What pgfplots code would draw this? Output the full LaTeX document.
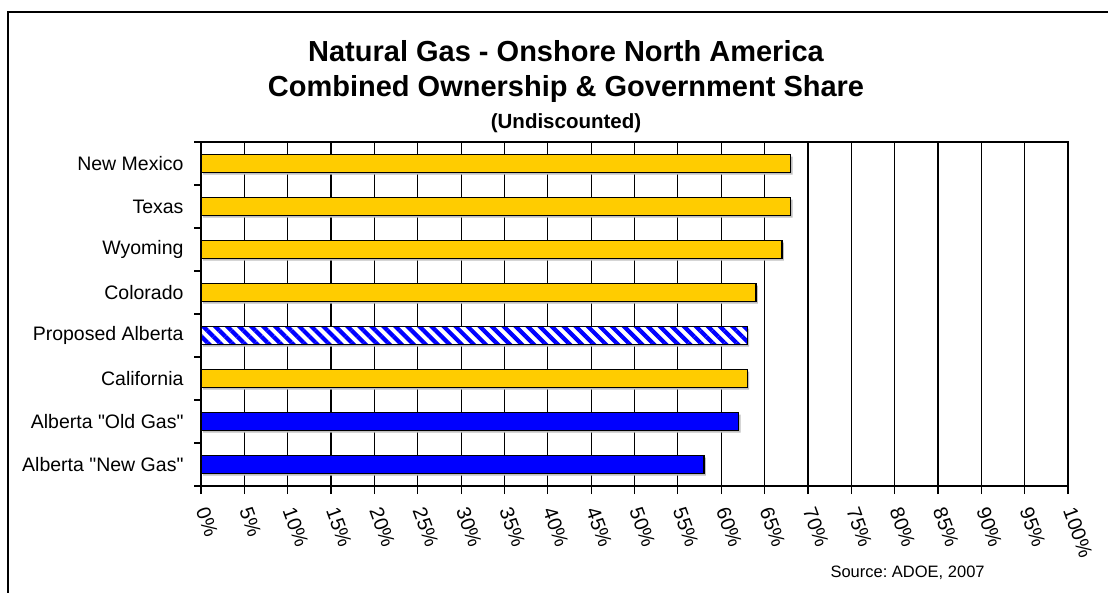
\documentclass[border=0pt]{standalone}
\usepackage{fontspec}
\setmainfont{Liberation Sans}
\newfontfamily\lsans{Liberation Sans}
\usepackage{pgfplots}
\pgfplotsset{compat=1.18}
\usetikzlibrary{patterns.meta}
\definecolor{gold}{HTML}{FFCC00}
\definecolor{xblue}{HTML}{0000FF}
\begin{document}
\frenchspacing
\begin{tikzpicture}[x=1pt,y=1pt]
\useasboundingbox (0,0) rectangle (1108,592);
\fill[white] (0,0) rectangle (1108,592);
\draw[line width=2pt] (8,-5) -- (8,580) -- (1115,580);
\begin{axis}[
  at={(201pt,106pt)}, anchor=south west,
  scale only axis, width=867pt, height=344pt,
  xmin=0, xmax=100, ymin=0.5, ymax=8.5, y dir=reverse,
  axis line style={line width=1.4pt},
  xtick={0,5,...,100},
  xticklabels={0\%,5\%,10\%,15\%,20\%,25\%,30\%,35\%,40\%,45\%,50\%,55\%,60\%,65\%,70\%,75\%,80\%,85\%,90\%,95\%,100\%},
  ytick={1,...,8},
  yticklabels={New Mexico,Texas,Wyoming,Colorado,Proposed Alberta,California,Alberta "Old Gas",Alberta "New Gas"},
  minor ytick={0.5,1.5,...,8.5},
  xtick pos=bottom, ytick pos=left,
  tick align=outside,
  major tick length=8pt, minor tick length=7pt,
  major y tick style={draw=none},
  every tick/.style={black, line width=1.2pt},
  xmajorgrids,
  major grid style={black, line width=1.2pt},
  xticklabel style={yshift=-11pt, rotate=-70, anchor=west, font=\lsans\fontsize{20}{22}\selectfont},
  yticklabel style={font=\lsans\fontsize{19.5}{22}\selectfont, xshift=-6pt},
  tick label style={/pgf/number format/assume math mode=true},
]
% shadows
\addplot[xbar, bar width=18pt, bar shift=0pt, fill=black!25, draw=none, xshift=2pt, yshift=-2pt]
  coordinates {(68,1) (68,2) (67,3) (64,4) (63,5) (63,6) (62,7) (58,8)};
\addplot[xbar, bar width=18pt, bar shift=0pt, fill=gold, draw=black, line width=1.3pt]
  coordinates {(68,1) (68,2) (67,3) (64,4) (63,6)};
\addplot[xbar, bar width=18pt, bar shift=0pt, fill=white, draw=none]
  coordinates {(63,5)};
\addplot[xbar, bar width=18pt, bar shift=0pt, draw=black, line width=1.3pt,
  pattern={Lines[angle=-45,distance=8.5pt,line width=4.2pt]}, pattern color=xblue]
  coordinates {(63,5)};
\addplot[xbar, bar width=18pt, bar shift=0pt, fill=xblue, draw=black, line width=1.3pt]
  coordinates {(62,7) (58,8)};
\end{axis}
\node[font=\fontsize{29}{32}\selectfont\bfseries, anchor=base] at (566,530) {Natural Gas - Onshore North America};
\node[font=\fontsize{29}{32}\selectfont\bfseries, anchor=base] at (566,495) {Combined Ownership \& Government Share};
\node[font=\fontsize{20.5}{23}\selectfont\bfseries, anchor=base] at (566,463) {(Undiscounted)};
\node[font=\fontsize{16.5}{19}\selectfont, anchor=base west] at (827,15) {Source: ADOE, 2007};
\end{tikzpicture}
\end{document}
